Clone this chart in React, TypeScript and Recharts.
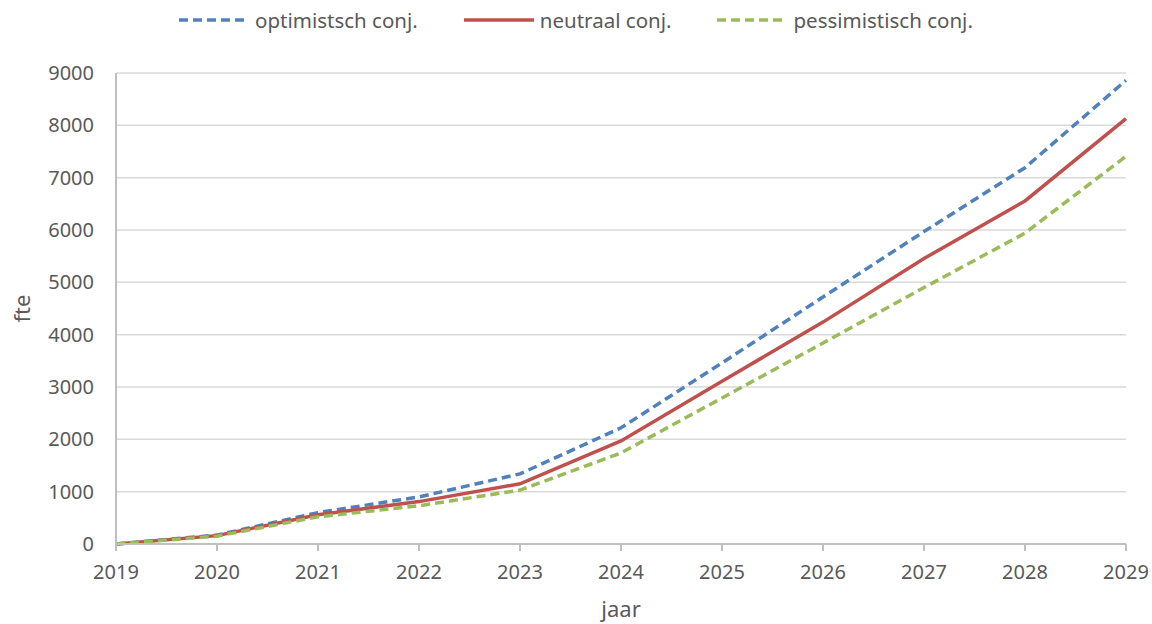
import React from "react";
import { LineChart, Line, XAxis, YAxis, CartesianGrid, Legend } from "recharts";

const years = [2019, 2020, 2021, 2022, 2023, 2024, 2025, 2026, 2027, 2028, 2029];
const optimistisch = [0, 170, 600, 900, 1340, 2220, 3460, 4720, 5970, 7190, 8860];
const neutraal = [0, 160, 560, 810, 1150, 1970, 3110, 4240, 5455, 6555, 8130];
const pessimistisch = [0, 150, 520, 730, 1030, 1740, 2790, 3840, 4900, 5940, 7410];
const yTicks = [0, 1000, 2000, 3000, 4000, 5000, 6000, 7000, 8000, 9000];

const seriesDefs = [
  { key: "opt", name: "optimistsch conj.", color: "#4f81bd", dash: "9 5" },
  { key: "neu", name: "neutraal conj.", color: "#c0504d", dash: undefined as string | undefined },
  { key: "pes", name: "pessimistisch conj.", color: "#9bbb59", dash: "9 5" },
];

const data = years.map((y, i) => ({
  year: y,
  opt: optimistisch[i],
  neu: neutraal[i],
  pes: pessimistisch[i],
}));

const FONT = "'Noto Sans', sans-serif";
const TEXT = "#595959";

function LegendContent() {
  return (
    <div
      style={{
        display: "flex",
        justifyContent: "center",
        alignItems: "center",
        height: 40,
        fontFamily: FONT,
        fontSize: 20.5,
        color: TEXT,
      }}
    >
      {seriesDefs.map((s, i) => (
        <div
          key={s.key}
          style={{ display: "flex", alignItems: "center", marginLeft: i === 0 ? 0 : 46 }}
        >
          <svg width={70} height={10} style={{ marginRight: 6 }}>
            <line
              x1={0}
              y1={5}
              x2={70}
              y2={5}
              stroke={s.color}
              strokeWidth={3.5}
              strokeDasharray={s.dash}
            />
          </svg>
          <span>{s.name}</span>
        </div>
      ))}
    </div>
  );
}

export default function App() {
  return (
    <div style={{ position: "absolute", left: 0, top: 0, width: 1152, height: 624, background: "#fff" }}>
      <LineChart
        width={1152}
        height={624}
        data={data}
        margin={{ top: 33, right: 26, bottom: 0, left: 0 }}
        style={{ fontFamily: FONT }}
      >
        <CartesianGrid vertical={false} stroke="#d9d9d9" strokeWidth={1.5} />
        <XAxis
          dataKey="year"
          type="number"
          domain={[2019, 2029]}
          ticks={years}
          interval={0}
          height={80}
          stroke="#bfbfbf"
          strokeWidth={2}
          tickSize={7}
          tickMargin={14}
          tick={{ fill: TEXT, fontSize: 20, fontFamily: FONT }}
          label={{
            value: "jaar",
            position: "insideBottom",
            offset: 7,
            fill: TEXT,
            fontSize: 22,
            fontFamily: FONT,
          }}
        />
        <YAxis
          type="number"
          domain={[0, 9000]}
          ticks={yTicks}
          interval={0}
          width={116}
          stroke="#bfbfbf"
          strokeWidth={2}
          tickLine={false}
          tickSize={0}
          tickMargin={22}
          tick={{ fill: TEXT, fontSize: 20, fontFamily: FONT }}
          label={{
            value: "fte",
            angle: -90,
            position: "center",
            dx: -36,
            fill: TEXT,
            fontSize: 22,
            fontFamily: FONT,
          }}
        />
        <Legend
          verticalAlign="top"
          align="center"
          content={<LegendContent />}
          wrapperStyle={{ top: 0, left: 0, width: 1152, height: 40 }}
        />
        {seriesDefs.map((s) => (
          <Line
            key={s.key}
            type="linear"
            dataKey={s.key}
            name={s.name}
            stroke={s.color}
            strokeWidth={3.5}
            strokeDasharray={s.dash}
            dot={false}
            activeDot={false}
            isAnimationActive={false}
          />
        ))}
      </LineChart>
    </div>
  );
}
